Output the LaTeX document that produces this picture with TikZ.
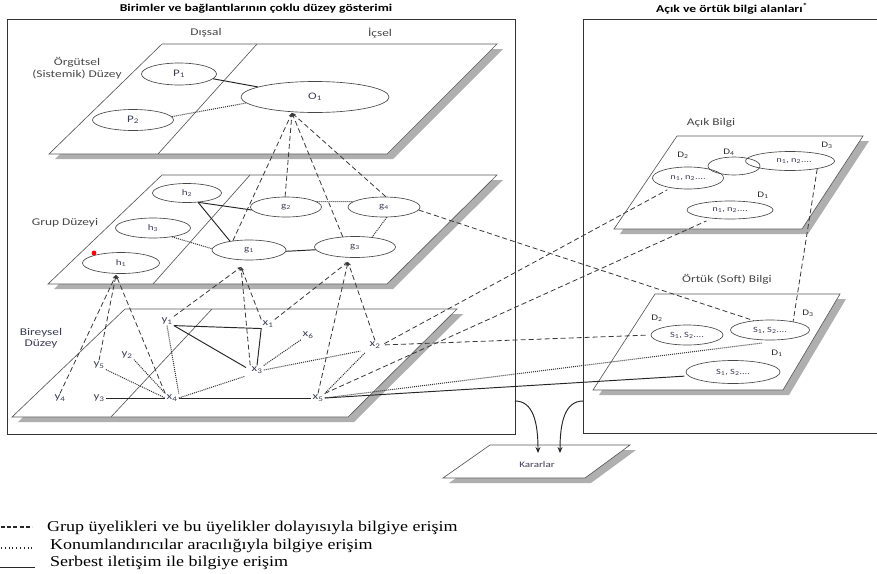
\documentclass[tikz,border=0pt]{standalone}
\usepackage{fontspec}
\setmainfont[FakeStretch=1.3]{Carlito}
\newfontfamily\legfont[FakeStretch=1.2]{Liberation Serif}
\usetikzlibrary{shapes.geometric,arrows.meta}
\definecolor{labc}{RGB}{62,62,88}
\definecolor{shdc}{RGB}{175,175,175}
\newcommand\drawplane[4]{%
  \fill[shd,shift={(6,5)}] (#1)--(#2)--(#3)--(#4)--cycle;
  \filldraw[planeb] (#1)--(#2)--(#3)--(#4)--cycle;}
\tikzset{
  planeb/.style={draw=black!65, fill=white, line width=0.65pt},
  shd/.style={fill=shdc},
  ell/.style={ellipse, draw=black!72, line width=0.65pt, inner sep=0pt, text=labc, font=\fontsize{8.5}{9}\selectfont},
  bigell/.style={ell, font=\fontsize{10}{11}\selectfont},
  ptl/.style={inner sep=1.2pt, text=labc, font=\fontsize{10}{11}\selectfont},
  dl/.style={inner sep=0pt, text=black!80, font=\fontsize{8.5}{9}\selectfont},
  lvl/.style={text=black!72, font=\fontsize{10.3}{11.5}\selectfont, align=center, inner sep=0pt},
  ttl/.style={font=\bfseries\fontsize{10.5}{12}\selectfont, inner sep=0pt},
  dsh/.style={draw=black!78, dash pattern=on 5pt off 3pt, line width=0.8pt},
  dtt/.style={draw=black!80, dash pattern=on 1pt off 1pt, line width=1pt},
  sld/.style={draw=black!85, line width=0.95pt},
  conv/.style={dsh, -{Stealth[length=4pt,width=3.5pt]}},
  leg/.style={font=\legfont\fontsize{15}{17}\selectfont, inner sep=0pt, anchor=base west},
  boxl/.style={draw=black!80, line width=0.8pt},
}
\begin{document}
\begin{tikzpicture}[x=1pt,y=-1pt]
\useasboundingbox (0,0) rectangle (877,573);
\fill[white] (0,0) rectangle (877,573);

% titles and frames
\node[ttl] (t1) at (256,9) {Birimler ve bağlantılarının çoklu düzey gösterimi};
\node[ttl] (t2) at (732,9) {Açık ve örtük bilgi alanları\textsuperscript{*}};
\draw[boxl] (7,19) rectangle (515,434);
\draw[boxl] (880,19) -- (583,19) -- (583,433) -- (880,433);

\node[lvl] (dis) at (206,33) {Dışsal};
\node[lvl] (ics) at (380,33) {İçsel};

% planes
\drawplane{162,44}{497,44}{387,154}{49,154}
\draw[planeb] (257,44) -- (158,154);
\drawplane{162,175}{497,175}{387,284}{48,284}
\draw[planeb] (250,175) -- (153,284);
\drawplane{125,309}{457,309}{348,417}{12,417}
\draw[planeb] (212,309) -- (111,417);
\drawplane{677,136}{863,136}{802,229}{614,229}
\drawplane{655,294}{840,294}{783,390}{593,390}
\drawplane{490,445}{630,445}{585,478}{443,478}

% level labels
\node[lvl] (lorg) at (77,68) {Örgütsel\\(Sistemik) Düzey};
\node[lvl] (lgrp) at (65,223) {Grup Düzeyi};
\node[lvl, text=labc] (lbir) at (41,338) {Bireysel\\Düzey};
\node[lvl] (lacik) at (711,123) {Açık Bilgi};
\node[lvl] (lortuk) at (727,279) {Örtük (Soft) Bilgi};
\node[lvl, font=\fontsize{8.5}{9}\selectfont, text=labc] (lkar) at (537,465) {Kararlar};

% organisational level
\node[bigell, minimum width=75, minimum height=22] (P1) at (179,74) {P\textsubscript{1}};
\node[bigell, minimum width=81, minimum height=21] (P2) at (133,120) {P\textsubscript{2}};
\node[bigell, minimum width=148, minimum height=31] (O1) at (315,97) {O\textsubscript{1}};

% group level
\node[ell, minimum width=69, minimum height=19] (h2) at (187,193) {h\textsubscript{2}};
\node[ell, minimum width=75, minimum height=20] (h3) at (153,228) {h\textsubscript{3}};
\node[ell, minimum width=77, minimum height=21] (h1) at (121,263) {h\textsubscript{1}};
\node[ell, minimum width=71, minimum height=20] (g2) at (286,207) {g\textsubscript{2}};
\node[ell, minimum width=72, minimum height=20] (g4) at (384,207) {g\textsubscript{4}};
\node[ell, minimum width=74, minimum height=20] (g1) at (249,250) {g\textsubscript{1}};
\node[ell, minimum width=81, minimum height=21] (g3) at (355,247) {g\textsubscript{3}};
\fill[red] (94,253) circle (2.4);

% individual level
\node[ptl] (y1) at (167,321) {y\textsubscript{1}};
\node[ptl] (x1) at (268,324) {x\textsubscript{1}};
\node[ptl] (x6) at (308,335) {x\textsubscript{6}};
\node[ptl] (x2) at (375,345) {x\textsubscript{2}};
\node[ptl] (y5) at (99,365) {y\textsubscript{5}};
\node[ptl] (y2) at (127,355) {y\textsubscript{2}};
\node[ptl] (x3) at (257,370) {x\textsubscript{3}};
\node[ptl] (y4) at (60,398) {y\textsubscript{4}};
\node[ptl] (y3) at (99,398) {y\textsubscript{3}};
\node[ptl] (x4) at (172,398) {x\textsubscript{4}};
\node[ptl] (x5) at (318,398) {x\textsubscript{5}};

% explicit knowledge
\node[ell, minimum width=71, minimum height=22, font=\fontsize{8}{9}\selectfont] (aD2) at (688,178) {n\textsubscript{1}, n\textsubscript{2}....};
\node[ell, minimum width=52, minimum height=18] (aD4) at (734,166) {};
\node[ell, minimum width=89, minimum height=19, font=\fontsize{8}{9}\selectfont] (aD3) at (790,161) {\hspace*{8pt}n\textsubscript{1}, n\textsubscript{2}....};
\node[ell, minimum width=86, minimum height=18, font=\fontsize{8}{9}\selectfont] (aD1) at (730,210) {n\textsubscript{1}, n\textsubscript{2}....};
\node[dl] (aL2) at (683,155) {D\textsubscript{2}};
\node[dl] (aL4) at (729,152) {D\textsubscript{4}};
\node[dl] (aL3) at (827,145) {D\textsubscript{3}};
\node[dl] (aL1) at (763,195) {D\textsubscript{1}};

% tacit knowledge
\node[ell, minimum width=72, minimum height=20, font=\fontsize{8}{9}\selectfont] (oD2) at (687,335) {S\textsubscript{1}, S\textsubscript{2}....};
\node[ell, minimum width=79, minimum height=20, font=\fontsize{8}{9}\selectfont] (oD3) at (770,330) {S\textsubscript{1}, S\textsubscript{2}....};
\node[ell, minimum width=94, minimum height=23, font=\fontsize{8}{9}\selectfont] (oD1) at (733,372) {S\textsubscript{1}, S\textsubscript{2}....};
\node[dl] (oL2) at (657,318) {D\textsubscript{2}};
\node[dl] (oL3) at (808,313) {D\textsubscript{3}};
\node[dl] (oL1) at (777,353) {D\textsubscript{1}};

% convergence points
\coordinate (O1p) at (292,113);
\coordinate (h1p) at (116,275);
\coordinate (g1p) at (241,267);
\coordinate (g3p) at (348,262);
\coordinate (x5d) at (762,343);

% solid connectors
\draw[sld] (P1.-8) -- (O1.170);
\draw[sld] (h2.-40) -- (g2.185);
\draw[sld] (h2.-40) -- (g1.155);
\draw[sld] (g1.-2) -- (g3.184);
\draw[sld] (y1.south east) -- (x1.south west) -- (x3.north);
\draw[sld, shorten >=5pt] (y1.south east) -- (x3.west);
\draw[sld] (y3) -- (x4);
\draw[sld] (x4) -- (x5);
\draw[sld, shorten >=4pt] (x5.east) -- (oD1.185);

% dotted connectors
\draw[dtt] (P2.5) -- (O1.185);
\draw[dtt] (h3.-25) -- (g1.178);
\draw[dtt] (g2.10) -- (g4.170);
\draw[dtt] (g4.-75) -- (g3.30);
\draw[dtt] (y1.south) -- (x4.north east);
\draw[dtt] (y5.south east) -- (x4.west);
\draw[dtt] (y2.south east) -- (x4.north west);
\draw[dtt, shorten >=6pt] (x4.east) -- (x3.south west);
\draw[dtt] (x3.north east) -- (x6.south west);
\draw[dtt, shorten >=8pt] (x3.east) -- (x2.south west);
\draw[dtt, shorten >=4pt] (x5.north east) -- (x2.south west);
\draw[dtt] (x5.east) -- (x5d);

% dashed connectors
\draw[conv] (g1.150) -- (O1p);
\draw[conv] (g2.95) -- (O1p);
\draw[conv] (g3.140) -- (O1p);
\draw[conv] (g4.80) -- (O1p);
\draw[conv] (y4.north) -- (h1p);
\draw[conv] (y5.north) -- (h1p);
\draw[conv] (x4.north west) -- (h1p);
\draw[conv] (y1.north east) -- (g1p);
\draw[conv] (x1.north west) -- (g1p);
\draw[conv] (x3.north west) -- (g1p);
\draw[conv] (x1.north east) -- (g3p);
\draw[conv] (x5.north) -- (g3p);
\draw[conv] (x2.north) -- (g3p);
\draw[dsh] (g4.-5) -- (oD3.150);
\draw[dsh] (aD3.-16) -- (oD3.20);
\draw[dsh, shorten <=3pt, shorten >=4pt] (x2.east) -- (aD2.-150);
\draw[dsh, shorten <=3pt, shorten >=5pt] (x2.east) -- (oD2.west);
\draw[dsh, shorten >=6pt] (x5.north east) -- (aD1.-155);

% decisions
\coordinate (arL0) at (515,401);
\coordinate (arL1) at (538,453);
\coordinate (arR0) at (583,401);
\coordinate (arR1) at (560,453);
\draw[sld, -{Stealth[length=6pt,width=5pt]}] (arL0) .. controls (533,401) and (538,422) .. (arL1);
\draw[sld, -{Stealth[length=6pt,width=5pt]}] (arR0) .. controls (565,401) and (560,422) .. (arR1);

% legend
\draw[black!85, line width=1.3pt, dash pattern=on 4pt off 2.2pt] (1,527) -- (32,527);
\draw[black!85, line width=1.2pt, dash pattern=on 1pt off 2.8pt] (1,548) -- (32,548);
\draw[black!85, line width=0.8pt] (0,567) -- (35,567);
\node[leg] (lg1) at (47,531) {Grup üyelikleri ve bu üyelikler dolayısıyla bilgiye erişim};
\node[leg] (lg2) at (50,549) {Konumlandırıcılar aracılığıyla bilgiye erişim};
\node[leg] (lg3) at (50,566) {Serbest iletişim ile bilgiye erişim};
\end{tikzpicture}
\end{document}
